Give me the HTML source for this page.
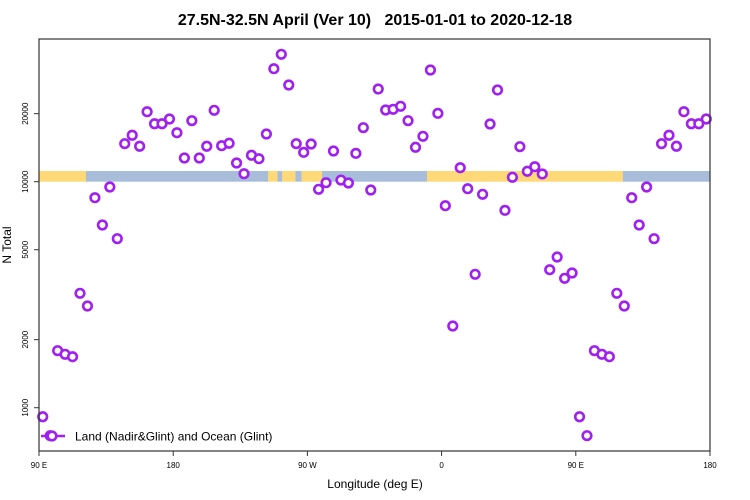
<!DOCTYPE html>
<html><head><meta charset="utf-8">
<style>
html,body{margin:0;padding:0;background:#fff;}
svg{display:block;font-family:"Liberation Sans",Arial,sans-serif;}
</style></head>
<body>
<svg id="chart" width="750" height="500" viewBox="0 0 750 500">
  <text x="375" y="25" text-anchor="middle" font-size="16" font-weight="bold" style="white-space:pre">27.5N-32.5N April (Ver 10)   2015-01-01 to 2020-12-18</text>
  <g id="band"></g>
  <g id="axes"></g>
  <g id="points"></g>
  <rect x="39" y="39" width="671" height="412" fill="none" stroke="#333" stroke-width="1.2"/>
  <text x="375" y="488" text-anchor="middle" font-size="12">Longitude (deg E)</text>
  <text transform="translate(11,245) rotate(-90)" text-anchor="middle" font-size="12">N Total</text>
  <g>
    <line x1="41" y1="436" x2="65" y2="436" stroke="#A020F0" stroke-width="2.5"/>
    <circle cx="52" cy="436" r="4.3" fill="#fff" stroke="#A020F0" stroke-width="2.6"/>
    <text x="75" y="440.5" font-size="12">Land (Nadir&amp;Glint) and Ocean (Glint)</text>
  </g>
</svg>
<script>
const lons = [];
for (let i = 0; i < 72; i++) lons.push(-177.5 + 5 * i);
const values = [16470,12730,18620,12730,14350,20700,14430,14790,12100,10850,13090,12640,16260,31620,36620,26790,14730,13490,14680,9255,9899,13670,10170,9868,13350,17340,9190,25720,20760,20910,21560,18620,14200,15880,31200,20070,7830,2298,11530,9312,3893,8795,18000,25460,7470,10460,14290,11120,11650,10820,4080,4642,3737,3945,912,752,1788,1723,1681,3208,2818,8495,6433,9474,5596,14730,16050,14350,20400,18050,18050,18940];
const xTickVals = [90,180,270,360,450,540];
const xTickLabels = ["90 E","180","90 W","0","90 E","180"];
const yTickVals = [1000,2000,5000,10000,20000];
const yTickLabels = ["1000","2000","5000","10000","20000"];
// land/ocean band segments (unwrapped longitude boundaries)
const bandStarts = [90,121.5,243.6,250,253,262,266,273,279.8,350.2,355,360,481.6,540];
const bandTypes = ["land","ocean","land","ocean","land","ocean","land","land","ocean","land","land","land","ocean"];

const X0=39, X1=710, XMIN=90, XMAX=540;
const Y10k=181.7, PXDEC=226;
function xs(l){ return X0 + (l-XMIN)*(X1-X0)/(XMAX-XMIN); }
function ys(v){ return Y10k - PXDEC*Math.log10(v/10000); }
const NS="http://www.w3.org/2000/svg";
function mk(tag, attrs, parent){ const e=document.createElementNS(NS,tag); for(const k in attrs) e.setAttribute(k,attrs[k]); parent.appendChild(e); return e; }

const band=document.getElementById('band');
for(let i=0;i<bandTypes.length;i++){
  const r=mk('rect',{x:xs(bandStarts[i]),y:171,width:xs(bandStarts[i+1])-xs(bandStarts[i])+0.5,height:10.7,fill:bandTypes[i]==='land'?'#FFD878':'#A7BDDA'},band);
  
  
}

const axes=document.getElementById('axes');
xTickVals.forEach((v,i)=>{
  const t=mk('line',{x1:xs(v),x2:xs(v),y1:451,y2:456,stroke:'#333','stroke-width':1},axes);
  
  
  const tx=mk('text',{x:xs(v),y:468,'text-anchor':'middle','font-size':8},axes);
  tx.textContent=xTickLabels[i];
  
  
});
yTickVals.forEach((v,i)=>{
  const t=mk('line',{x1:34,x2:39,y1:ys(v),y2:ys(v),stroke:'#333','stroke-width':1},axes);
  
  
  const tx=mk('text',{transform:`translate(28,${ys(v)}) rotate(-90)`,'text-anchor':'middle','font-size':8},axes);
  tx.textContent=yTickLabels[i];
  
  
});

const pts=document.getElementById('points');
function drawPt(l,v){
  const c=mk('circle',{cx:xs(l),cy:ys(v),r:4.3,fill:'#fff',stroke:'#A020F0','stroke-width':2.6},pts);
  
  
}
lons.forEach((lon,i)=>{
  if(lon>=90){ drawPt(lon,values[i]); }
  const u = lon+360;
  if(u>=XMIN && u<=XMAX) drawPt(u,values[i]);
});
</script>
</body></html>
